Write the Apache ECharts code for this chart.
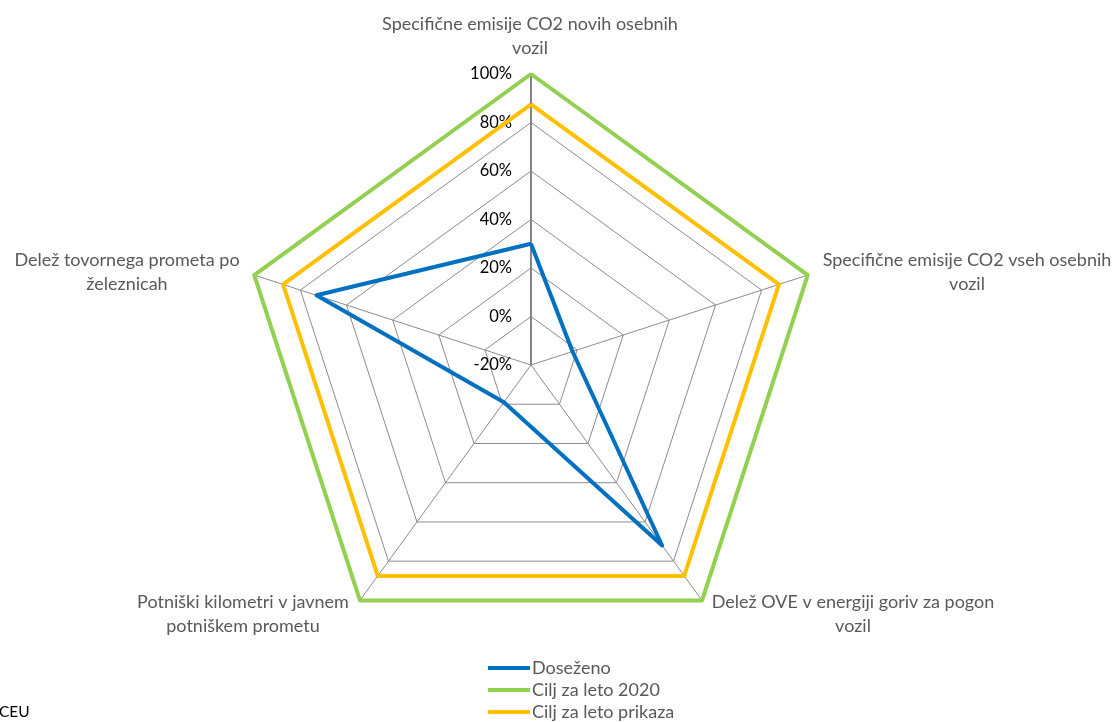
<!DOCTYPE html>
<html>
<head>
<meta charset="utf-8">
<script src="https://cdn.jsdelivr.net/npm/echarts@6/dist/echarts.min.js"></script>
<style>
html,body{margin:0;padding:0;background:#fff;}
#chart{width:1113px;height:722px;}
</style>
</head>
<body>
<div id="chart"></div>
<script>
// Categories (axes of the radar), clockwise from the top
const categories = [
  'Specifične emisije CO2 novih osebnih\nvozil',
  'Specifične emisije CO2 vseh osebnih\nvozil',
  'Delež OVE v energiji goriv za pogon\nvozil',
  'Potniški kilometri v javnem\npotniškem prometu',
  'Delež tovornega prometa po\nželeznicah'
];
// Series values (percent), same order as categories
const dosezeno = [30, -2, 72, -1, 73];
const cilj2020 = [100, 100, 100, 100, 100];
const ciljPrikaza = [87.5, 87.5, 87.5, 87.5, 87.5];
const seriesNames = ['Doseženo', 'Cilj za leto 2020', 'Cilj za leto prikaza'];
// Tick labels (percent)
const ticks = [-20, 0, 20, 40, 60, 80, 100];
const sourceText = 'CEU';

const FONT = 'Lato, "Open Sans", sans-serif';
const tickMin = ticks[0], tickMax = ticks[ticks.length - 1];

// ECharts radar runs counter-clockwise; reorder so categories go clockwise
const order = [0, 4, 3, 2, 1];
const reorder = arr => order.map(i => arr[i]);

const indicators = order.map((ci, k) => ({
  name: categories[ci],
  min: tickMin,
  max: tickMax,
  axisLabel: { show: k === 0 },
  axisLine: { lineStyle: { color: k === 0 ? '#858585' : '#8c8c8c', width: k === 0 ? 2 : 1 } }
}));

// Label anchor layout (center of each text block), per category
const labelPos = [
  [530, 36], [967, 272], [853, 614.5], [243, 614.5], [127, 272]
];

const chart = echarts.init(document.getElementById('chart'));
chart.setOption({
  animation: false,
  backgroundColor: '#ffffff',
  legend: {
    orient: 'vertical',
    left: 488,
    top: 659,
    height: 63,
    padding: 0,
    icon: 'rect',
    itemWidth: 42,
    itemHeight: 4,
    itemGap: 4,
    textStyle: { color: '#595959', fontSize: 18, fontFamily: FONT, lineHeight: 17, padding: [0, 0, 0, -3] },
    data: seriesNames
  },
  radar: {
    center: [531, 365],
    radius: 291,
    shape: 'polygon',
    startAngle: 90,
    splitNumber: ticks.length - 1,
    indicator: indicators,
    axisName: { show: false },
    axisLabel: {
      show: false,
      color: '#000000',
      fontSize: 16.5,
      fontFamily: FONT,
      margin: 19,
      formatter: v => v + '%'
    },
    axisTick: { show: false },
    splitLine: { lineStyle: { color: '#8c8c8c', width: 1 } },
    splitArea: { show: false },
    axisLine: { lineStyle: { color: '#8c8c8c', width: 1 } }
  },
  series: [{
    type: 'radar',
    symbol: 'none',
    data: [
      { name: seriesNames[0], value: reorder(dosezeno), lineStyle: { color: '#0070C0', width: 4 }, itemStyle: { color: '#0070C0' } },
      { name: seriesNames[1], value: reorder(cilj2020), lineStyle: { color: '#92D050', width: 4 }, itemStyle: { color: '#92D050' } },
      { name: seriesNames[2], value: reorder(ciljPrikaza), lineStyle: { color: '#FFC000', width: 4 }, itemStyle: { color: '#FFC000' } }
    ]
  }],
  graphic: categories.map((c, i) => ({
    type: 'text',
    x: labelPos[i][0],
    y: labelPos[i][1],
    style: {
      text: c,
      align: 'center',
      verticalAlign: 'middle',
      fill: '#595959',
      fontSize: 18,
      fontFamily: FONT,
      lineHeight: 24
    }
  })).concat([{
    type: 'text',
    x: -1,
    y: 712,
    style: { text: sourceText, align: 'left', verticalAlign: 'middle', fill: '#000000', fontSize: 15.5, fontFamily: FONT }
  }])
});
</script>
</body>
</html>
